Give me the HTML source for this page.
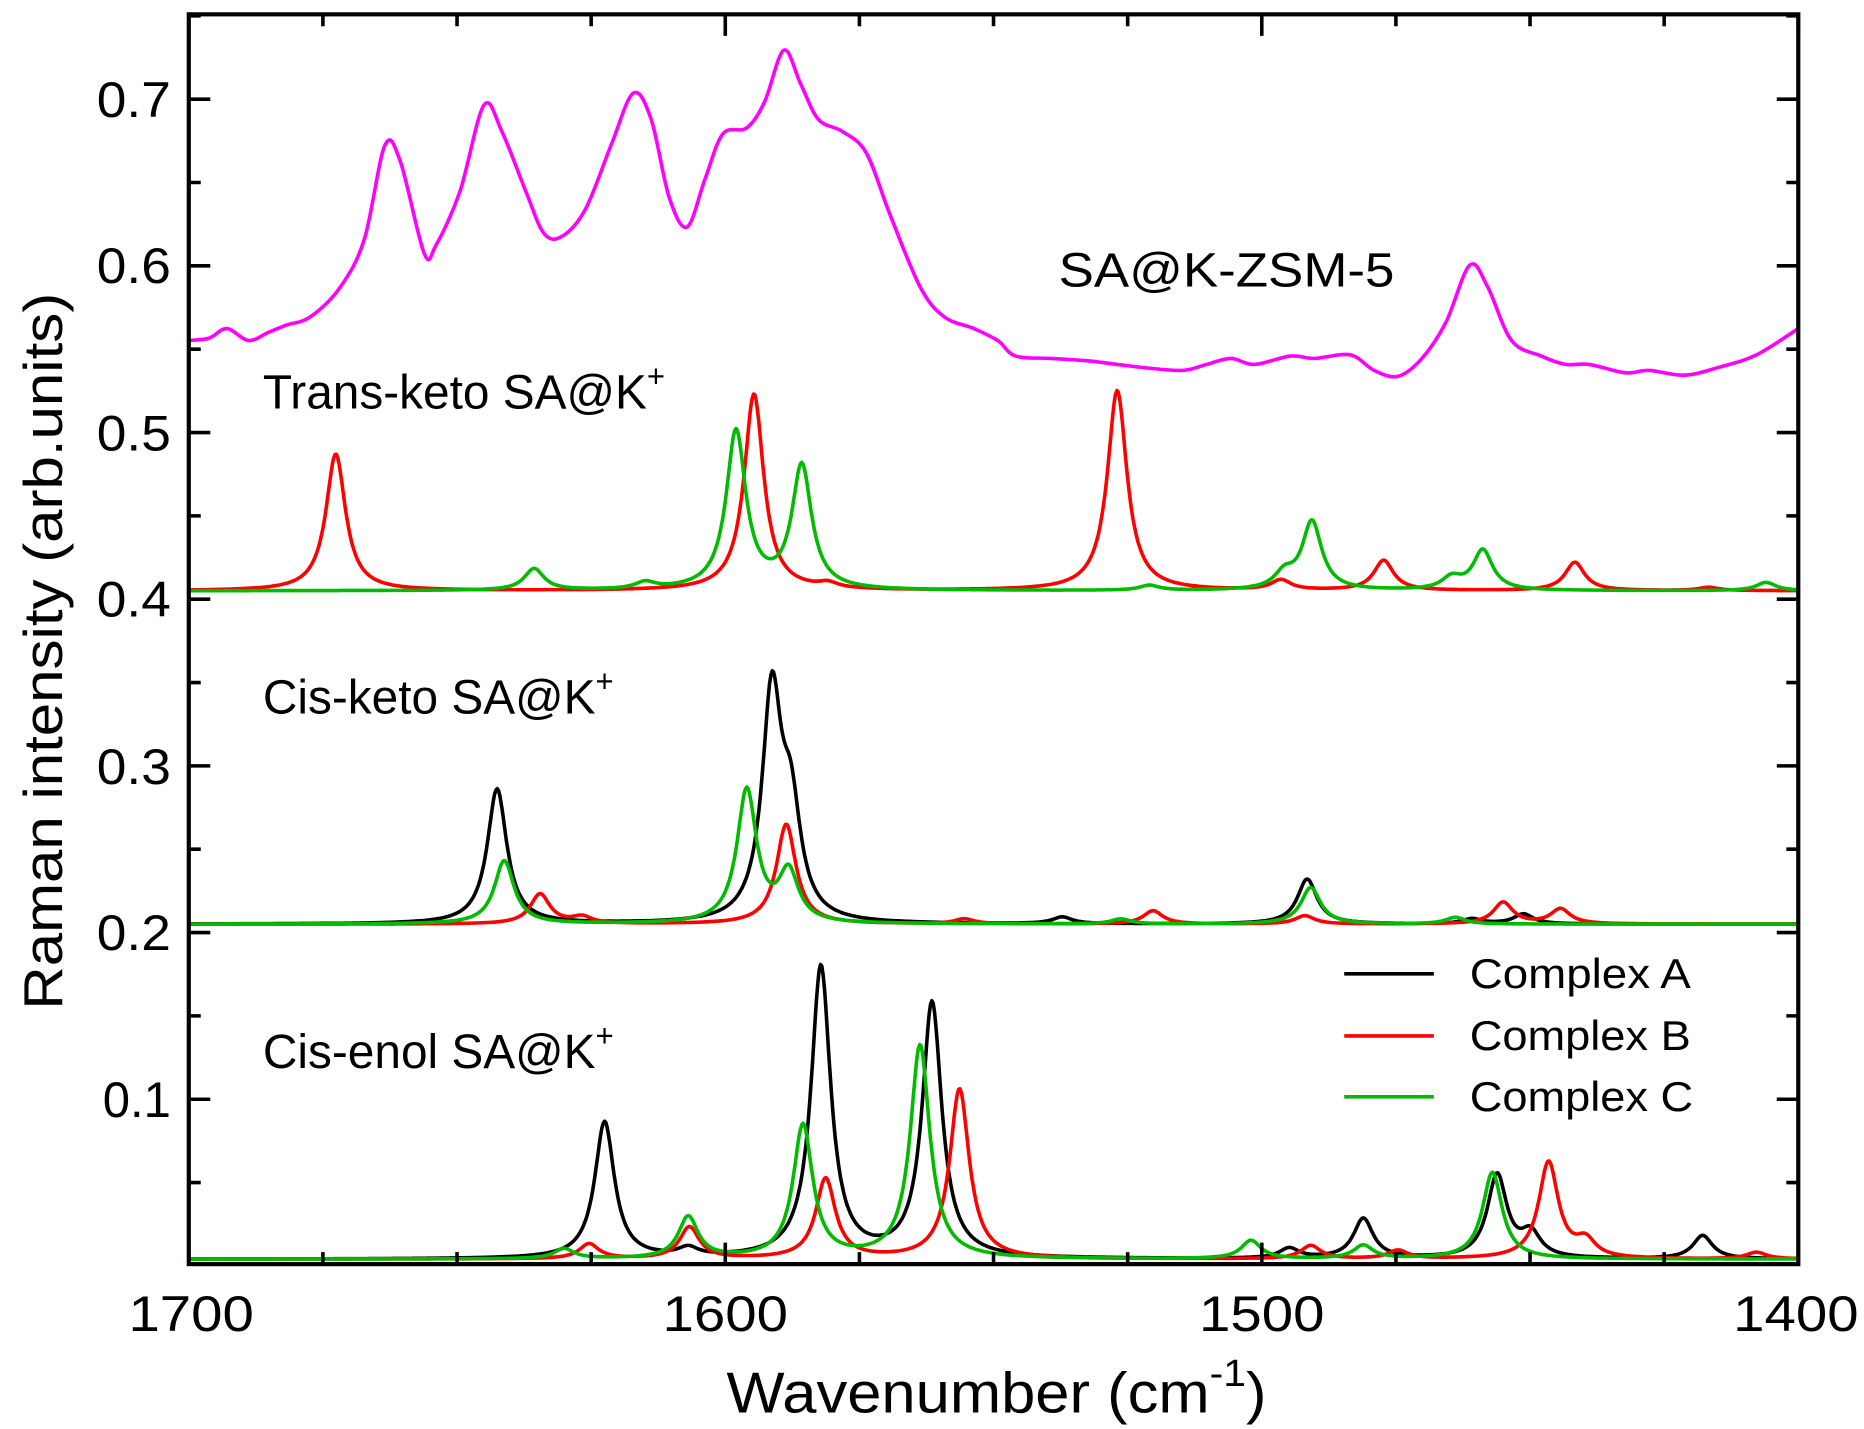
<!DOCTYPE html>
<html><head><meta charset="utf-8"><style>
html,body{margin:0;padding:0;background:#fff}
svg{display:block}
text{font-family:"Liberation Sans",sans-serif;fill:#000}
</style></head><body>
<svg id="s" width="1864" height="1429" viewBox="0 0 1560 1196" preserveAspectRatio="none" xmlns="http://www.w3.org/2000/svg">
<g id="curves" fill="none" stroke-width="3" stroke-linejoin="round"></g>
<rect x="158" y="12" width="1347" height="1046" fill="none" stroke="#000" stroke-width="3.5"/>
<g id="ticks" stroke="#000" stroke-width="3"></g>
<g font-size="42" text-anchor="end" lengthAdjust="spacingAndGlyphs">
<text x="143" y="935" textLength="57" lengthAdjust="spacingAndGlyphs">0.1</text>
<text x="143" y="795" textLength="62" lengthAdjust="spacingAndGlyphs">0.2</text>
<text x="143" y="656" textLength="62" lengthAdjust="spacingAndGlyphs">0.3</text>
<text x="143" y="516" textLength="62" lengthAdjust="spacingAndGlyphs">0.4</text>
<text x="143" y="377" textLength="62" lengthAdjust="spacingAndGlyphs">0.5</text>
<text x="143" y="237" textLength="62" lengthAdjust="spacingAndGlyphs">0.6</text>
<text x="143" y="98" textLength="62" lengthAdjust="spacingAndGlyphs">0.7</text>
</g>
<g font-size="42" text-anchor="middle">
<text x="160" y="1114" textLength="105" lengthAdjust="spacingAndGlyphs">1700</text>
<text x="607" y="1114" textLength="105" lengthAdjust="spacingAndGlyphs">1600</text>
<text x="1056" y="1114" textLength="105" lengthAdjust="spacingAndGlyphs">1500</text>
<text x="1503" y="1114" textLength="105" lengthAdjust="spacingAndGlyphs">1400</text>
</g>
<text x="608" y="1182" font-size="48" textLength="452" lengthAdjust="spacingAndGlyphs">Wavenumber (cm<tspan dy="-22" font-size="32">-1</tspan><tspan dy="22">)</tspan></text>
<text transform="translate(52,545) rotate(-90)" font-size="46" text-anchor="middle" textLength="600" lengthAdjust="spacingAndGlyphs">Raman intensity (arb.units)</text>
<g font-size="40">
<text x="886" y="240" textLength="281" lengthAdjust="spacingAndGlyphs">SA@K-ZSM-5</text>
<text x="220" y="342">Trans-keto SA@K<tspan dy="-18" font-size="26">+</tspan></text>
<text x="220" y="597">Cis-keto SA@K<tspan dy="-18" font-size="26">+</tspan></text>
<text x="220" y="894">Cis-enol SA@K<tspan dy="-18" font-size="26">+</tspan></text>
</g>
<g font-size="35" stroke-width="3">
<line x1="1125" y1="815" x2="1200" y2="815" stroke="#000"/><text x="1230" y="827" textLength="185" lengthAdjust="spacingAndGlyphs">Complex A</text>
<line x1="1125" y1="867" x2="1200" y2="867" stroke="#f00"/><text x="1230" y="879" textLength="185" lengthAdjust="spacingAndGlyphs">Complex B</text>
<line x1="1125" y1="918" x2="1200" y2="918" stroke="#0b0"/><text x="1230" y="930" textLength="187" lengthAdjust="spacingAndGlyphs">Complex C</text>
</g>
</svg>
<script>
var NS="http://www.w3.org/2000/svg";
function X(w){return 158+(1700-w)*4.49;}
function Y(v){return 920-(v-0.1)*1395;}
var tk=document.getElementById("ticks"),d="";
for(var w=1700;w>=1400;w-=25){var x=X(w),L=(w%100==0)?18:10;d+="M"+x+" 1058v-"+L+"M"+x+" 12v"+L;}
for(var v=0.05;v<0.76;v+=0.05){var y=Y(v),L=(Math.round(v*100)%10==0)?18:10;d+="M158 "+y+"h"+L+"M1505 "+y+"h-"+L;}
var p=document.createElementNS(NS,"path");p.setAttribute("d",d);tk.appendChild(p);
var cg=document.getElementById("curves");
function add(d,c){var p=document.createElementNS(NS,"path");p.setAttribute("d",d);p.setAttribute("stroke",c);cg.appendChild(p);}
function lor(base,peaks,c){var d="";for(var w=1700;w>=1400;w-=0.25){var v=base;for(var i=0;i<peaks.length;i++){var k=peaks[i],g=k[2]||2.2,t=(w-k[0])/g;v+=k[1]/(1+t*t);}d+=(d?"L":"M")+X(w).toFixed(1)+" "+Y(v).toFixed(1);}add(d,c);}
function px(x){return 1700-(x-158)/4.49;}
function P(a){return a.map(function(k){return [px(k[0]),k[1],k[2]];});}
lor(0.405,P([[281,.082],[631,.118],[935,.12],[1158,.018],[1318,.017],[1072,.006],[693,.003],[1430,.002]]),"#f00");
lor(0.405,P([[447,.013],[540,.004],[616,.095],[671,.074],[1098,.041],[1075,.009],[1241,.024],[1215,.007],[962,.003],[1478,.005]]),"#0b0");
lor(0.205,P([[416,.081],[646,.135],[662,.06],[1094,.027],[889,.004],[1275,.006],[1232,.003]]),"#000");
lor(0.205,P([[452,.018],[487,.004],[658,.06],[807,.003],[965,.008],[1092,.005],[1258,.013],[1306,.009]]),"#f00");
lor(0.205,P([[422,.038],[625,.08],[660,.03],[1097,.022],[938,.003],[1218,.004]]),"#0b0");
lor(0.004,P([[506,.082],[576,.005],[687,.175],[780,.153],[1079,.006],[1141,.024],[1253,.05],[1281,.014],[1425,.014]]),"#000");
lor(0.004,P([[493,.009],[577,.019],[691,.048],[803,.102],[1097,.008],[1170,.005],[1296,.058],[1327,.01],[1470,.004]]),"#f00");
lor(0.004,P([[472,.006],[576,.025],[672,.08],[770,.128],[1047,.011],[1141,.008],[1249,.052]]),"#0b0");
var m=[[158,285],[175,283],[190,275],[208,285],[225,278],[240,272],[260,265],[285,240],[305,200],[322,122],[335,135],[355,212],[365,205],[385,160],[405,88],[420,110],[440,160],[455,195],[470,198],[490,175],[512,120],[530,78],[545,100],[560,165],[575,190],[590,150],[605,112],[625,107],[640,85],[656,42],[670,70],[685,100],[705,110],[725,128],[745,180],[770,240],[790,265],[815,275],[835,285],[850,298],[880,300],[910,302],[935,305],[960,308],[990,310],[1010,305],[1030,300],[1050,305],[1080,298],[1100,300],[1130,297],[1150,310],[1170,315],[1190,300],[1210,270],[1230,222],[1245,240],[1265,285],[1290,298],[1310,305],[1330,305],[1360,312],[1380,310],[1410,314],[1440,307],[1470,297],[1505,275]];
var d2="M"+m[0][0]+" "+m[0][1];
for(var i=0;i<m.length-1;i++){var p0=m[Math.max(i-1,0)],p1=m[i],p2=m[i+1],p3=m[Math.min(i+2,m.length-1)];
d2+="C"+(p1[0]+(p2[0]-p0[0])/6)+" "+(p1[1]+(p2[1]-p0[1])/6)+" "+(p2[0]-(p3[0]-p1[0])/6)+" "+(p2[1]-(p3[1]-p1[1])/6)+" "+p2[0]+" "+p2[1];}
add(d2,"#f0f");
</script>
</body></html>
